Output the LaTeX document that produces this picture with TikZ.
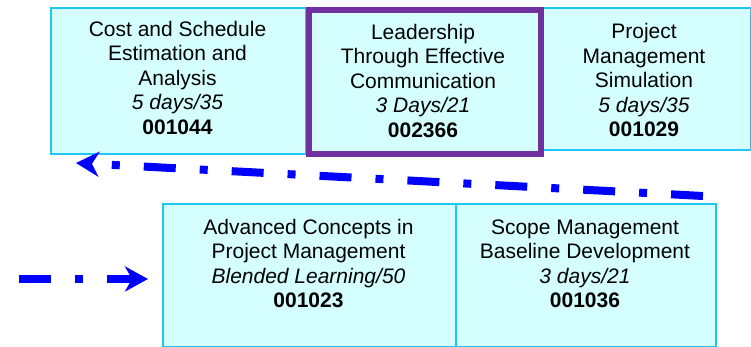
\documentclass[tikz,border=0pt]{standalone}
\usepackage{fontspec}
\setmainfont{Liberation Sans}
\usetikzlibrary{arrows.meta}
\definecolor{boxfill}{RGB}{213,255,255}
\definecolor{boxline}{RGB}{30,200,245}
\definecolor{purp}{RGB}{112,48,160}
\definecolor{arrblue}{RGB}{0,0,255}
\tikzset{
  coursebox/.style={draw=boxline, fill=boxfill, line width=2pt, anchor=north west, inner sep=0pt},
  keybox/.style={draw=purp, fill=boxfill, line width=6pt, anchor=north west, inner sep=0pt},
  coursetxt/.style={anchor=north, inner sep=0pt, align=center, font=\fontsize{21}{24.5}\selectfont},
  flow/.style={draw=arrblue, line width=8pt, dash pattern=on 32pt off 24pt on 8pt off 24pt,
    -{Stealth[length=23pt, width=25pt, inset=7pt]}},
}
\begin{document}
\begin{tikzpicture}[x=1pt,y=-1pt]
\useasboundingbox (0,0) rectangle (751,347);
% top row
\node[coursebox, minimum width=255pt, minimum height=146pt] (b1) at (50,7) {};
\node[coursebox, minimum width=212pt, minimum height=142pt] (b3) at (538,7) {};
\node[keybox, minimum width=232pt, minimum height=144pt] (b2) at (306,7) {};
% bottom row
\node[coursebox, minimum width=293pt, minimum height=143pt] (b4) at (162,203) {};
\node[coursebox, minimum width=260pt, minimum height=143pt] (b5) at (455,203) {};
% texts
\node[coursetxt] (t1) at (177.5,18.9) {\strut Cost and Schedule\\Estimation and\\Analysis\\\textit{5 days/35}\\\textbf{001044}};
\node[coursetxt] (t2) at (423,21.9) {\strut Leadership\\Through Effective\\Communication\\\textit{3 Days/21}\\\textbf{002366}};
\node[coursetxt] (t3) at (644,21.2) {\strut Project\\Management\\Simulation\\\textit{5 days/35}\\\textbf{001029}};
\node[coursetxt] (t4) at (308.5,216.9) {\strut Advanced Concepts in\\Project Management\\\textit{Blended Learning/50}\\\textbf{001023}};
\node[coursetxt] (t5) at (585,216.9) {\strut Scope Management\\Baseline Development\\\textit{3 days/21}\\\textbf{001036}};
% arrows
\coordinate (a1s) at (703,196);
\coordinate (a1e) at (76,163);
\coordinate (a2s) at (19,279);
\coordinate (a2e) at (148,279);
\draw[flow] (a1s) -- (a1e);
\draw[flow] (a2s) -- (a2e);
\end{tikzpicture}
\end{document}
